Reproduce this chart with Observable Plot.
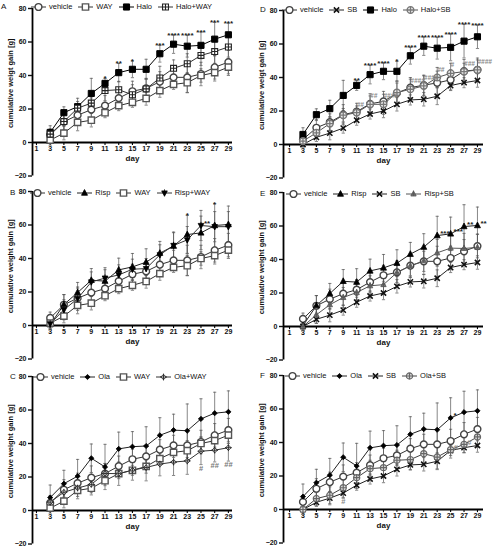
<!DOCTYPE html>
<html><head><meta charset="utf-8">
<script src="https://cdn.jsdelivr.net/npm/d3@7"></script>
<script src="https://cdn.jsdelivr.net/npm/@observablehq/plot@0.6"></script>
<style>
body{margin:0;background:#fff;}
#root{position:relative;width:499px;height:550px;overflow:hidden;font-family:"Liberation Sans",Arial,sans-serif;color:#111;}
.panel{position:absolute;}
.letter{position:absolute;font-size:8px;line-height:10px;}
.legend{position:absolute;display:flex;align-items:center;font-size:7.5px;line-height:10px;white-space:nowrap;}
.legend .item{display:flex;align-items:center;margin-right:6px;}
.legend svg{margin-right:3px;display:block;}
</style></head><body><div id="root"></div>
<script>
// ---------- data ----------
const days = [3,5,7,9,11,13,15,17,19,21,23,25,27,29];
const xTicks = [1,3,5,7,9,11,13,15,17,19,21,23,25,27,29];
const yTicks = [-20,0,20,40,60,80];

const vehicleMean = [4.5,12.4,16.3,19.6,22,26.5,30.6,32.3,36.3,38.9,38.9,40.9,44.9,48];
const vehicleSD   = [3.5,6,6,7,6,6,6,6,6,6,9,7,7,7];
const vehicleDMean= [3,10,13.3,17.8,19.6,24.3,25.7,30.7,34,35.4,36.8,38.6,43.8,44.6];
const vehicleDSD  = [3,5,5,6,5,6,6,6,6,6,7,6,7,7];
const WAYMean     = [1.4,5.6,12,13.3,17.8,22,24,26.3,31,34.7,35.7,40,41.7,45];
const WAYSD       = [3,4,5,4,3,3,3,4,4,3,6,4,5,5];
const SBMean      = [0,4.3,6.8,9.8,14.5,18.2,20,24,26.6,27,28.8,35.2,36.9,38.2];
const SBSD        = [2,2.5,4,3,3,3,4,4,3,4,5,3,3,4];
const HaloMean    = [6,17.8,21.4,29.3,35.3,41.7,43.7,43.7,53,58.7,57.5,58,61.7,64.3];
const HaloSD      = [4,3.5,5,9,3,5.5,5,6,5,5.5,6.5,8,10,7];
const HaloWAYMean = [5,12.5,20.5,23.5,31,31.5,28.5,32,38.5,44.3,47,52,54.3,57];
const HaloWAYSD   = [3,5,4,5,6,5,6,6,7,5,6,6,7,6];
const HaloSBMean  = [2,7,12.5,17.5,19,24,24,31,33,35,40,42.5,43.5,44.5];
const HaloSBSD    = [3,3,4,4,4,5,6,7,6,6,6,6,5,6];
const RispMean    = [0.5,12.5,19.7,27,26.5,33.2,35,37.8,43.2,47.4,54.3,55.3,59.7,60.3];
const RispSD      = [3,6,6,7,8,7,8,8,7,8,11.5,10,13,11];
const RispWAYMean = [1,9.4,16,26,28.3,30.2,33.6,34,42.2,47.8,51.1,59.7,59,59];
const RispWAYSD   = [3,6,7,6,5,6,6,6,6,8,8,9,9,9];
const RispSBMean  = [0,7,13,17.3,20.3,24.3,25,32.2,36.2,39.2,44,46.8,46.6,47.2];
const RispSBSD    = [2,5,5,6,5,6,6,7,7,8,8,8,9,8];
const OlaMean     = [7.7,16,20.5,31.2,26,36.8,38.1,38.5,44.9,48,47.6,54.7,58.1,58.9];
const OlaSD       = [7.5,8,10,8.5,13.5,10,9,11.5,10.5,9.5,16,12,12.5,12.5];
const OlaWAYMean  = [5,10.9,13.4,15.6,22.1,22,24.1,25.7,27.7,28.9,29.6,35.4,36,37.5];
const OlaWAYSD    = [4,5,5,5,6,7,6,8,7,8,8,8,7,8];
const OlaSBMean   = [0,6.5,8.5,13,19,24.4,25,29.4,29.8,33.3,31.3,35.7,38.9,43.3];
const OlaSBSD     = [3,4,5,6,5,5,6,6,6,6,7,5,5,6];

const notesA_Halo   = ["","","","","*","**","*","","***","****","****","***","***","***"];
const notesD_Halo   = ["","","","","**","****","****","*","****","****","****","****","****","****"];
const notesD_HaloSB = ["","","","","##","##","####","","####","####","##","#","###","####"];
const notesB_Risp   = ["","","","","","","","","","","*","","*",""];
const notesB_RispWAY= ["","","","","","","","","","","","**","",""];
const notesE_Risp   = ["","","","","","","","","","","***","***","**","**"];
const notesC_OlaWAY = ["","","","","","","","","","","","#","##","##"];
const notesF_Ola    = ["","","","","","","","","","","","*","",""];
const notesF_OlaSB9 = ["","","","#","","","","","","","","","",""];
const notesF_OlaSB  = ["","","","","","","","","","","","#","#",""];

const labelWeigt = "cumulative weigt gain [g]";
const labelWeight = "cumulative weight gain [g]";

// ---------- symbols ----------
const PI = Math.PI;
function mk(fn){ return {draw(c,size){ fn(c, Math.sqrt(size/PI)); }}; }
function plus(c,s){ c.moveTo(-s,0); c.lineTo(s,0); c.moveTo(0,-s); c.lineTo(0,s); }
const SYM = {
  circle: mk((c,r)=>{c.moveTo(r,0); c.arc(0,0,r,0,2*PI);}),
  circlePlus: mk((c,r)=>{c.moveTo(r,0); c.arc(0,0,r,0,2*PI); plus(c,r);}),
  square: mk((c,r)=>{const s=r*0.9; c.moveTo(-s,-s); c.lineTo(s,-s); c.lineTo(s,s); c.lineTo(-s,s); c.closePath();}),
  squarePlus: mk((c,r)=>{const s=r*0.9; c.moveTo(-s,-s); c.lineTo(s,-s); c.lineTo(s,s); c.lineTo(-s,s); c.closePath(); plus(c,s);}),
  times: mk((c,r)=>{const s=r*0.85; c.moveTo(-s,-s); c.lineTo(s,s); c.moveTo(s,-s); c.lineTo(-s,s);}),
  triUp: mk((c,r)=>{c.moveTo(0,-r*1.15); c.lineTo(r,r*0.75); c.lineTo(-r,r*0.75); c.closePath();}),
  triDown: mk((c,r)=>{c.moveTo(0,r*1.15); c.lineTo(r,-r*0.75); c.lineTo(-r,-r*0.75); c.closePath(); c.moveTo(0,-r*1.3); c.lineTo(0,r*1.15);}),
  triPlus: mk((c,r)=>{c.moveTo(0,-r*1.15); c.lineTo(r,r*0.75); c.lineTo(-r,r*0.75); c.closePath(); c.moveTo(0,-r*1.3); c.lineTo(0,r*0.75); c.moveTo(-r*0.6,0); c.lineTo(r*0.6,0);}),
  diamond: mk((c,r)=>{c.moveTo(0,-r); c.lineTo(r,0); c.lineTo(0,r); c.lineTo(-r,0); c.closePath();}),
  diamondPlus: mk((c,r)=>{c.moveTo(0,-r); c.lineTo(r,0); c.lineTo(0,r); c.lineTo(-r,0); c.closePath(); plus(c,r*1.25);}),
  cap: mk((c,r)=>{c.moveTo(-r,0); c.lineTo(r,0);}),
  tickDown: mk((c,r)=>{c.moveTo(0,0); c.lineTo(0,r);})
};

// ---------- series ----------
const SERIES = {
  vehicle:  {name:"vehicle",  mean:vehicleMean,  sd:vehicleSD,  sym:"circle",     fill:"#fff", stroke:"#444", r:3.4, sw:1.4, line:"#333"},
  vehicleD: {name:"vehicle",  mean:vehicleDMean, sd:vehicleDSD, sym:"circle",     fill:"#fff", stroke:"#444", r:3.4, sw:1.4, line:"#333"},
  WAY:      {name:"WAY",      mean:WAYMean,      sd:WAYSD,      sym:"square",     fill:"#fff", stroke:"#555", r:3.5, sw:1.4, line:"#333"},
  SB:       {name:"SB",       mean:SBMean,       sd:SBSD,       sym:"times",      fill:"none", stroke:"#111", r:3.1, sw:1.5, line:"#222"},
  Halo:     {name:"Halo",     mean:HaloMean,     sd:HaloSD,     sym:"square",     fill:"#000", stroke:"#000", r:3.4, sw:1,   line:"#000"},
  HaloWAY:  {name:"Halo+WAY", mean:HaloWAYMean,  sd:HaloWAYSD,  sym:"squarePlus", fill:"#fff", stroke:"#222", r:3.3, sw:1.1, line:"#333"},
  HaloSB:   {name:"Halo+SB",  mean:HaloSBMean,   sd:HaloSBSD,   sym:"circlePlus", fill:"#eee", stroke:"#777", r:3.4, sw:1.3, line:"#555"},
  Risp:     {name:"Risp",     mean:RispMean,     sd:RispSD,     sym:"triUp",      fill:"#000", stroke:"#000", r:3.0, sw:0.8, line:"#222"},
  RispWAY:  {name:"Risp+WAY", mean:RispWAYMean,  sd:RispWAYSD,  sym:"triDown",    fill:"#000", stroke:"#000", r:2.8, sw:0.8, line:"#333"},
  RispSB:   {name:"Risp+SB",  mean:RispSBMean,   sd:RispSBSD,   sym:"triPlus",    fill:"#777", stroke:"#555", r:2.7, sw:0.8, line:"#555"},
  Ola:      {name:"Ola",      mean:OlaMean,      sd:OlaSD,      sym:"diamond",    fill:"#000", stroke:"#000", r:2.6, sw:0.8, line:"#222"},
  OlaWAY:   {name:"Ola+WAY",  mean:OlaWAYMean,   sd:OlaWAYSD,   sym:"diamondPlus",fill:"#fff", stroke:"#222", r:2.7, sw:0.9, line:"#333"},
  OlaSB:    {name:"Ola+SB",   mean:OlaSBMean,    sd:OlaSBSD,    sym:"circlePlus", fill:"#ddd", stroke:"#666", r:3.1, sw:1.2, line:"#444"}
};

const panels = [
  {letter:"A", left:0,   top:0,   right:false, ylabel:labelWeigt,  keys:["vehicle","WAY","Halo","HaloWAY"],
   letterPos:[1,2], legendPos:[31,2],
   notes:[{key:"Halo", labels:notesA_Halo, pos:"above", color:"#222"}]},
  {letter:"B", left:0,   top:183, right:false, ylabel:labelWeight, keys:["vehicle","Risp","WAY","RispWAY"],
   letterPos:[10,188], legendPos:[30,188],
   notes:[{key:"Risp", labels:notesB_Risp, pos:"above", color:"#222"},{key:"RispWAY", labels:notesB_RispWAY, pos:"right", color:"#222"}]},
  {letter:"C", left:0,   top:368, right:false, ylabel:labelWeight, keys:["vehicle","Ola","WAY","OlaWAY"],
   letterPos:[10,372], legendPos:[33,372],
   notes:[{key:"OlaWAY", labels:notesC_OlaWAY, pos:"below", color:"#777"}]},
  {letter:"D", left:250, top:2,   right:true,  ylabel:labelWeigt,  keys:["vehicleD","SB","Halo","HaloSB"],
   letterPos:[260,5], legendPos:[282,5],
   notes:[{key:"Halo", labels:notesD_Halo, pos:"above", color:"#222"},{key:"HaloSB", labels:notesD_HaloSB, pos:"rightup", color:"#888"}]},
  {letter:"E", left:250, top:184, right:true,  ylabel:labelWeight, keys:["vehicle","Risp","SB","RispSB"],
   letterPos:[260,189], legendPos:[286,189],
   notes:[{key:"Risp", labels:notesE_Risp, pos:"right", color:"#222"}]},
  {letter:"F", left:250, top:367, right:true,  ylabel:labelWeight, keys:["vehicle","Ola","SB","OlaSB"],
   letterPos:[260,371], legendPos:[285,371],
   notes:[{key:"Ola", labels:notesF_Ola, pos:"right", color:"#222"},
          {key:"OlaSB", labels:notesF_OlaSB9, pos:"below", color:"#888"},
          {key:"OlaSB", labels:notesF_OlaSB, pos:"right", color:"#888"}]}
];

// ---------- draw ----------
const root = document.getElementById("root");
const FONT = "Liberation Sans, Arial, sans-serif";

function rowsOf(key){
  const s = SERIES[key];
  return days.map((d,i)=>({day:d, mean:s.mean[i], sd:s.sd[i], key}));
}

function notesMarks(note){
  const s = SERIES[note.key];
  const rows = days.map((d,i)=>({day:d, mean:s.mean[i], sd:s.sd[i], t:note.labels[i]})).filter(r=>r.t && r.t.trim());
  const base = {x:"day", text:"t", fill:note.color, fontWeight:"bold", fontFamily:FONT};
  if (note.pos==="above") return Plot.text(rows, {...base, y:d=>d.mean+d.sd, lineAnchor:"bottom", dy:3, fontSize:8});
  if (note.pos==="below") return Plot.text(rows, {...base, y:d=>d.mean-d.sd, lineAnchor:"top", dy:1, fontSize:7.5});
  if (note.pos==="rightup") return Plot.text(rows, {...base, y:"mean", textAnchor:"start", dx:0, dy:-8, fontSize:6.5, fontStyle:"italic"});
  return Plot.text(rows, {...base, y:"mean", textAnchor:"start", dx:3, dy:-2, fontSize:8});
}

for (const p of panels){
  const xDomain = p.right ? [0.1, 29.9] : [0.42, 29.6];
  const width = p.right ? 249 : 250;
  const marginLeft = p.right ? 33 : 32;
  const marginRight = width - marginLeft - 200;
  const marks = [];
  // axes
  marks.push(Plot.ruleX([xDomain[0]], {y1:-20, y2:80, stroke:"#000", strokeWidth:1.8}));
  marks.push(Plot.axisY({ticks:yTicks, tickSize:4, tickPadding:2, fontSize:7, fontWeight:"bold", fontFamily:FONT, label:null, strokeWidth:1.4}));
  marks.push(Plot.ruleY([0], {x1:xDomain[0], x2:xDomain[1], stroke:"#000", strokeWidth:1.8}));
  marks.push(Plot.dot(xTicks, {x:d=>d, y:0, symbol:SYM.tickDown, r:2.6, fill:"none", stroke:"#000", strokeWidth:1.1}));
  marks.push(Plot.text(xTicks, {x:d=>d, y:0, text:d=>String(d), dy:6, fontSize:7, fontWeight:"bold", fontFamily:FONT, fill:"#111"}));
  marks.push(Plot.text(["day"], {frameAnchor:"bottom", dy:-15, text:d=>d, fontSize:8, fontWeight:"bold", fontFamily:FONT}));
  marks.push(Plot.text([p.ylabel], {frameAnchor:"left", textAnchor:"middle", lineAnchor:"middle", rotate:-90, dx:-22, dy:-9, text:d=>d, fontSize:7.5, fontWeight:"bold", fontFamily:FONT}));
  // error bars
  for (const k of p.keys){
    const rows = rowsOf(k);
    marks.push(Plot.ruleX(rows, {x:"day", y1:d=>d.mean-d.sd, y2:d=>d.mean+d.sd, stroke:"#555", strokeWidth:0.7}));
    marks.push(Plot.dot(rows, {x:"day", y:d=>d.mean+d.sd, symbol:SYM.cap, r:1.6, fill:"none", stroke:"#555", strokeWidth:0.7}));
    marks.push(Plot.dot(rows, {x:"day", y:d=>d.mean-d.sd, symbol:SYM.cap, r:1.6, fill:"none", stroke:"#555", strokeWidth:0.7}));
  }
  // lines
  for (const k of p.keys){
    const s = SERIES[k];
    marks.push(Plot.line(rowsOf(k), {x:"day", y:"mean", stroke:s.line, strokeWidth:1}));
  }
  // markers
  for (const k of p.keys){
    const s = SERIES[k];
    marks.push(Plot.dot(rowsOf(k), {x:"day", y:"mean", symbol:SYM[s.sym], r:s.r, fill:s.fill, stroke:s.stroke, strokeWidth:s.sw}));
  }
  for (const n of p.notes) marks.push(notesMarks(n));

  const svg = Plot.plot({
    width, height:182, marginLeft, marginRight, marginTop:8, marginBottom:6.5,
    x:{domain:xDomain, axis:null},
    y:{domain:[-20,80], axis:null},
    style:{fontFamily:FONT, background:"transparent", overflow:"visible"},
    marks
  });
  const div = document.createElement("div");
  div.className = "panel";
  div.style.left = p.left+"px"; div.style.top = p.top+"px";
  div.appendChild(svg);
  root.appendChild(div);

  // letter
  const L = document.createElement("div");
  L.className = "letter"; L.textContent = p.letter;
  L.style.left = p.letterPos[0]+"px"; L.style.top = p.letterPos[1]+"px";
  root.appendChild(L);

  // legend
  const lg = document.createElement("div");
  lg.className = "legend";
  lg.style.left = p.legendPos[0]+"px"; lg.style.top = p.legendPos[1]+"px";
  for (const k of p.keys){
    const s = SERIES[k];
    const item = document.createElement("div"); item.className = "item";
    const path = d3.symbol().type(SYM[s.sym]).size(PI*s.r*s.r)();
    const ns = "http://www.w3.org/2000/svg";
    const sv = document.createElementNS(ns,"svg");
    sv.setAttribute("width","15"); sv.setAttribute("height","10");
    const ln = document.createElementNS(ns,"line");
    ln.setAttribute("x1","0"); ln.setAttribute("x2","15"); ln.setAttribute("y1","5"); ln.setAttribute("y2","5");
    ln.setAttribute("stroke", s.line); ln.setAttribute("stroke-width","1");
    sv.appendChild(ln);
    const pt = document.createElementNS(ns,"path");
    pt.setAttribute("d", path); pt.setAttribute("transform","translate(7.5,5)");
    pt.setAttribute("fill", s.fill); pt.setAttribute("stroke", s.stroke); pt.setAttribute("stroke-width", s.sw);
    sv.appendChild(pt);
    item.appendChild(sv);
    const tx = document.createElement("span"); tx.textContent = s.name;
    item.appendChild(tx);
    lg.appendChild(item);
  }
  root.appendChild(lg);
}
</script></body></html>
